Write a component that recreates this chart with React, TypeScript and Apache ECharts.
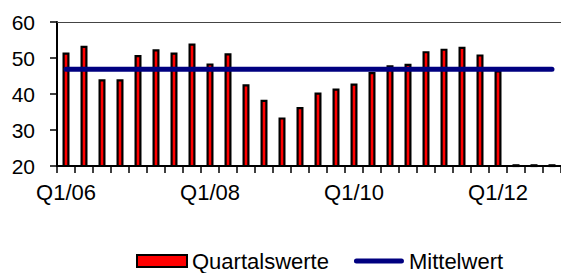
import React, { useEffect, useRef } from "react";
import * as echarts from "echarts";

const years = ["06", "07", "08", "09", "10", "11", "12"];
const categories: string[] = [];
years.forEach((y) => {
  for (let q = 1; q <= 4; q++) categories.push(`Q${q}/${y}`);
});

const quartalswerte = [
  51.5, 53.4, 44.1, 44.1, 50.8, 52.4, 51.5, 54.0,
  48.5, 51.3, 42.7, 38.4, 33.5, 36.4, 40.4, 41.5,
  42.9, 46.1, 48.0, 48.4, 51.9, 52.6, 53.1, 51.0,
  46.6, 20.5, 20.5, 20.5,
];

const mittelwertValue = 46.9;
const mittelwert = categories.map(() => mittelwertValue);

const yTicks = { min: 20, max: 60, interval: 10 };

const FONT = "'Liberation Sans', Arial, sans-serif";

export default function App() {
  const ref = useRef<HTMLDivElement>(null);
  useEffect(() => {
    if (!ref.current) return;
    const chart = echarts.init(ref.current, undefined, { renderer: "svg" });
    chart.setOption({
      animation: false,
      backgroundColor: "#ffffff",
      textStyle: { fontFamily: FONT },
      grid: { left: 57, top: 22, width: 504, height: 144, containLabel: false },
      legend: {
        left: 131,
        top: 245,
        itemWidth: 50,
        itemHeight: 12,
        itemGap: 25,
        textStyle: { fontFamily: FONT, fontSize: 22, color: "#000" },
        data: [
          { name: "Quartalswerte", icon: "rect" },
          {
            name: "Mittelwert",
            icon:
              "path://M0,0 M2.5,3.5 L47.5,3.5 A2.5,2.5 0 0 1 47.5,8.5 L2.5,8.5 A2.5,2.5 0 0 1 2.5,3.5 Z M50,12",
          },
        ],
      },
      xAxis: [
        {
          type: "category",
          data: categories,
          boundaryGap: true,
          axisLine: { show: true, lineStyle: { color: "#000", width: 2 } },
          axisTick: {
            show: true,
            interval: 0,
            length: 7,
            lineStyle: { color: "#000", width: 1.5 },
          },
          axisLabel: {
            interval: 7,
            margin: 15,
            fontSize: 22,
            fontFamily: FONT,
            color: "#000",
          },
          splitLine: { show: false },
        },
        {
          type: "category",
          position: "top",
          data: categories,
          axisLine: { show: true, lineStyle: { color: "#444", width: 1 } },
          axisTick: { show: false },
          axisLabel: { show: false },
          splitLine: { show: false },
        },
      ],
      yAxis: {
        type: "value",
        min: yTicks.min,
        max: yTicks.max,
        interval: yTicks.interval,
        axisLine: { show: true, lineStyle: { color: "#000", width: 2 } },
        axisTick: { show: true, length: 7, lineStyle: { color: "#000", width: 1.5 } },
        axisLabel: { margin: 22, fontSize: 21, fontFamily: FONT, color: "#000" },
        splitLine: { show: false },
      },
      series: [
        {
          name: "Quartalswerte",
          type: "bar",
          data: quartalswerte,
          barWidth: 7,
          itemStyle: { color: "#FF0000", borderColor: "#000", borderWidth: 2.2 },
          z: 2,
        },
        {
          name: "Mittelwert",
          type: "line",
          data: mittelwert,
          symbol: "none",
          showSymbol: false,
          lineStyle: { color: "#000080", width: 5, cap: "round" },
          itemStyle: { color: "#000080" },
          z: 3,
        },
      ],
    });
    return () => chart.dispose();
  }, []);
  return (
    <div
      ref={ref}
      style={{ position: "fixed", left: 0, top: 0, width: 561, height: 273 }}
    />
  );
}
